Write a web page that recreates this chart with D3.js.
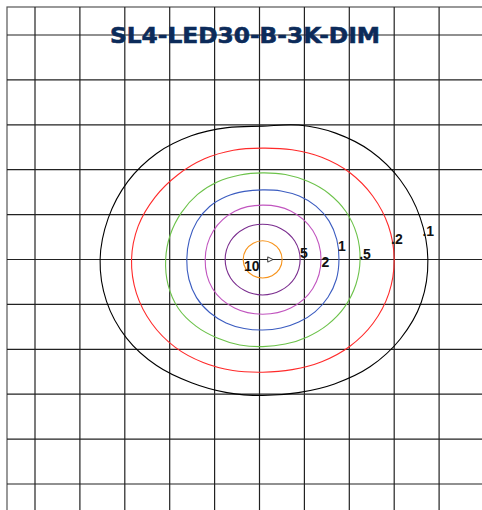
<!DOCTYPE html>
<html>
<head>
<meta charset="utf-8">
<script src="https://cdn.jsdelivr.net/npm/d3@7"></script>
<style>
  html, body { margin: 0; padding: 0; background: #fff; }
  svg { display: block; }
</style>
</head>
<body>
<div id="chart"></div>
<script>
// isofootcandle plot, grid units (one square = 1)
var title = 'SL4-LED30-B-3K-DIM';
var gridTicks = [-5, -4, -3, -2, -1, 0, 1, 2, 3, 4, 5];

var levels = ['10', '5', '2', '1', '.5', '.2', '.1'];

// contour centre (grid units)
var centerX = 0.07, centerY = 0;

// radius of each contour at evenly spaced angles, counter-clockwise from +x
var radii10 = [0.434, 0.43, 0.42, 0.418, 0.42, 0.43, 0.434, 0.43, 0.42, 0.412, 0.42, 0.43];
var radii5 = [0.835, 0.825, 0.80, 0.785, 0.80, 0.825, 0.835, 0.825, 0.80, 0.79, 0.80, 0.825];
var radii2 = [1.30, 1.29, 1.25, 1.21, 1.24, 1.27, 1.28, 1.29, 1.25, 1.22, 1.25, 1.29];
var radii1 = [1.70, 1.71, 1.71, 1.68, 1.63, 1.58, 1.55, 1.57, 1.62, 1.67, 1.69, 1.69,
  1.69, 1.70, 1.70, 1.67, 1.63, 1.59, 1.57, 1.58, 1.61, 1.65, 1.68, 1.70];
var radii05 = [2.17, 2.17, 2.14, 2.08, 2.01, 1.96, 1.93, 1.95, 2.00, 2.05, 2.09, 2.13,
  2.16, 2.18, 2.17, 2.10, 2.02, 1.97, 1.94, 1.95, 1.99, 2.05, 2.11, 2.15];
var radii02 = [2.93, 2.90, 2.83, 2.74, 2.63, 2.53, 2.48, 2.52, 2.59, 2.67, 2.77, 2.87,
  2.92, 2.91, 2.85, 2.76, 2.65, 2.56, 2.51, 2.54, 2.63, 2.74, 2.84, 2.91];
var radii01 = [3.68, 3.63, 3.54, 3.41, 3.25, 3.10, 2.97, 3.04, 3.18, 3.34, 3.47, 3.56,
  3.62, 3.60, 3.50, 3.34, 3.17, 3.07, 3.03, 3.07, 3.20, 3.38, 3.54, 3.66];

var contourRadii = [radii10, radii5, radii2, radii1, radii05, radii02, radii01];

// where each level's label starts (grid units)
var labelX = [-0.345, 0.90, 1.38, 1.75, 2.22, 2.93, 3.63];
var labelY = [-0.256, 0.033, -0.167, 0.19, 0.01, 0.345, 0.52];

var colors = ['#f7941d', '#7a2d8e', '#c155bf', '#3b5cc0', '#6cc24a', '#ff2a2a', '#000000'];

var W = 482, H = 510;

var x = d3.scaleLinear().domain([-5, 5]).range([35, 484]);
var y = d3.scaleLinear().domain([5, -5]).range([35, 484]);

var svg = d3.select('#chart').append('svg').attr('width', W).attr('height', H);

// outer frame
svg.append('rect')
  .attr('x', 7).attr('y', 7).attr('width', W + 20).attr('height', H + 20)
  .attr('fill', 'none').attr('stroke', '#555').attr('stroke-width', 1.2);

var grid = svg.append('g').attr('class', 'grid');
grid.selectAll('line.v').data(gridTicks).enter().append('line')
  .attr('class', 'v')
  .attr('x1', function (d) { return x(d); }).attr('x2', function (d) { return x(d); })
  .attr('y1', 7).attr('y2', H)
  .attr('stroke', '#222').attr('stroke-width', 1.2);
grid.selectAll('line.h').data(gridTicks).enter().append('line')
  .attr('class', 'h')
  .attr('y1', function (d) { return y(d); }).attr('y2', function (d) { return y(d); })
  .attr('x1', 7).attr('x2', W)
  .attr('stroke', '#222').attr('stroke-width', 1.2);

var toPoints = function (radii) {
  var step = 2 * Math.PI / radii.length;
  return radii.map(function (r, i) {
    return [centerX + r * Math.cos(i * step), centerY + r * Math.sin(i * step)];
  });
};

var line = d3.line()
  .x(function (d) { return x(d[0]); })
  .y(function (d) { return y(d[1]); })
  .curve(d3.curveCardinalClosed.tension(0));

svg.append('g').selectAll('path').data(contourRadii).enter().append('path')
  .attr('d', function (d) { return line(toPoints(d)); })
  .attr('fill', 'none')
  .attr('stroke', function (d, i) { return colors[i]; })
  .attr('stroke-width', 1.1);

// aiming arrow at the pole
svg.append('defs').append('marker')
  .attr('id', 'head').attr('viewBox', '0 0 8 8').attr('refX', 7).attr('refY', 4)
  .attr('markerWidth', 7).attr('markerHeight', 7).attr('orient', 'auto')
  .append('path').attr('d', 'M1,1 L7,4 L1,7 Z')
  .attr('fill', '#fff').attr('stroke', '#222').attr('stroke-width', 1);
svg.append('line')
  .attr('x1', x(-0.05)).attr('x2', x(0.3))
  .attr('y1', y(0)).attr('y2', y(0))
  .attr('stroke', '#222').attr('stroke-width', 1)
  .attr('stroke-dasharray', '3,2')
  .attr('marker-end', 'url(#head)');

svg.append('g').selectAll('text').data(levels).enter().append('text')
  .attr('x', function (d, i) { return x(labelX[i]); })
  .attr('y', function (d, i) { return y(labelY[i]); })
  .attr('font-family', "'Liberation Sans', Arial, sans-serif")
  .attr('font-weight', 'bold')
  .attr('font-size', 14)
  .attr('fill', '#111')
  .text(function (d) { return d; });

svg.append('text')
  .attr('x', 245).attr('y', 43)
  .attr('text-anchor', 'middle')
  .attr('font-family', "'DejaVu Sans', sans-serif")
  .attr('font-weight', 'bold')
  .attr('font-size', 22)
  .attr('textLength', 270)
  .attr('lengthAdjust', 'spacingAndGlyphs')
  .attr('fill', '#0c2b5a')
  .attr('stroke', '#0c2b5a')
  .attr('stroke-width', 0.6)
  .text(title);
</script>
</body>
</html>
